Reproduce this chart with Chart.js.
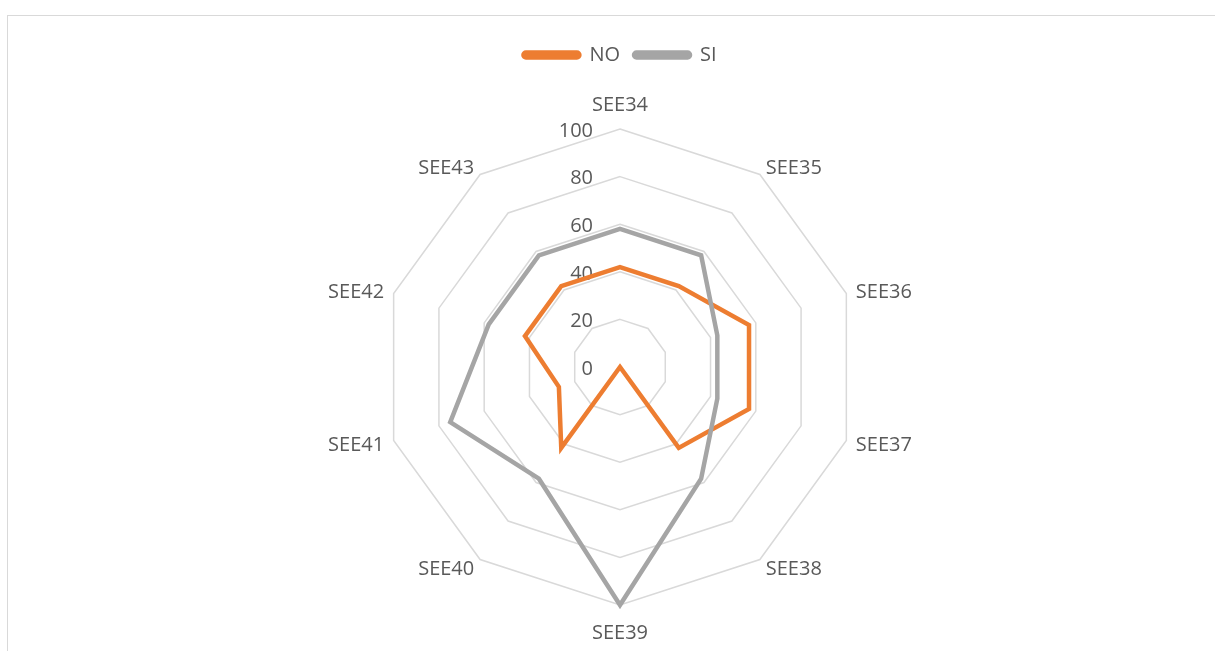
<!DOCTYPE html>
<html>
<head>
<meta charset="utf-8">
<script src="https://cdn.jsdelivr.net/npm/chart.js@4/dist/chart.umd.min.js"></script>
<style>
  html, body { margin: 0; padding: 0; background: #fff; }
  #wrap { position: relative; width: 1215px; height: 651px; overflow: hidden; }
  #frame { position: absolute; left: 7px; top: 15px; width: 1400px; height: 800px;
           border: 1.5px solid #d9d9d9; box-sizing: border-box; }
  #radar { position: absolute; left: 0; top: 0; }
</style>
</head>
<body>
<div id="wrap">
  <div id="frame"></div>
  <canvas id="radar" width="1215" height="651"></canvas>
</div>
<script>
// categories and series (percentages)
const categories = ['SEE34', 'SEE35', 'SEE36', 'SEE37', 'SEE38', 'SEE39', 'SEE40', 'SEE41', 'SEE42', 'SEE43']
const noValues = [42, 42, 57, 57, 42, 0, 42, 27, 42, 42]
const siValues = [58, 58, 43, 43, 58, 100, 58, 75, 58, 58]
const tickValues = [0, 20, 40, 60, 80, 100]

const textColor = '#595959'
const fontFamily = '"Open Sans", sans-serif'
const font = '20px ' + fontFamily

// Excel puts the scale numbers left of the vertical axis, and its
// category labels sit closer to the corners than Chart.js puts them
const radarText = {
  id: 'radarText',
  beforeDatasetsDraw(chart) {
    const scale = chart.scales.r
    const ctx = chart.ctx
    ctx.save()
    ctx.font = font
    ctx.fillStyle = textColor
    ctx.textBaseline = 'middle'

    ctx.textAlign = 'right'
    tickValues.forEach((v) => {
      const d = scale.getDistanceFromCenterForValue(v)
      ctx.fillText(String(v), scale.xCenter - 27, scale.yCenter - d + 2)
    })

    const outer = scale.getDistanceFromCenterForValue(scale.max) + 10
    categories.forEach((label, i) => {
      const p = scale.getPointPosition(i, outer)
      const dx = p.x - scale.xCenter
      const dy = p.y - scale.yCenter
      let y = p.y + 2
      if (Math.abs(dx) < 5) {
        ctx.textAlign = 'center'
        y += dy < 0 ? -16 : 16
      } else {
        ctx.textAlign = dx > 0 ? 'left' : 'right'
      }
      ctx.fillText(label, p.x, y)
    })
    ctx.restore()
  }
}

// leave room between the legend and the plot
const legendGap = {
  id: 'legendGap',
  beforeInit(chart) {
    const fit = chart.legend.fit
    chart.legend.fit = function () {
      fit.bind(chart.legend)()
      this.height += 53.5
    }
  }
}

const toDataset = (label, data, color, order) => ({
  label: label,
  data: data,
  borderColor: color,
  backgroundColor: color,
  borderWidth: 4.5,
  borderJoinStyle: 'miter',
  pointRadius: 0,
  pointHoverRadius: 0,
  fill: false,
  tension: 0,
  order: order
})

new Chart(document.getElementById('radar'), {
  type: 'radar',
  data: {
    labels: categories,
    datasets: [
      toDataset('NO', noValues, '#ed7d31', 1),
      toDataset('SI', siValues, '#a5a5a5', 0)
    ]
  },
  options: {
    responsive: false,
    animation: false,
    layout: { padding: { left: 25, right: 0, top: 31, bottom: 45.5 } },
    plugins: {
      tooltip: { enabled: false },
      legend: {
        position: 'top',
        labels: {
          color: textColor,
          font: { family: fontFamily, size: 20 },
          boxWidth: 56,
          boxHeight: 5,
          useBorderRadius: true,
          borderRadius: 2.5,
          padding: 14,
          sort: (a, b) => a.datasetIndex - b.datasetIndex
        }
      }
    },
    scales: {
      r: {
        min: 0,
        max: 100,
        ticks: { stepSize: 20, display: false },
        grid: { color: '#d9d9d9', lineWidth: 1.5 },
        angleLines: { display: false },
        pointLabels: { display: false }
      }
    }
  },
  plugins: [radarText, legendGap]
})
</script>
</body>
</html>
